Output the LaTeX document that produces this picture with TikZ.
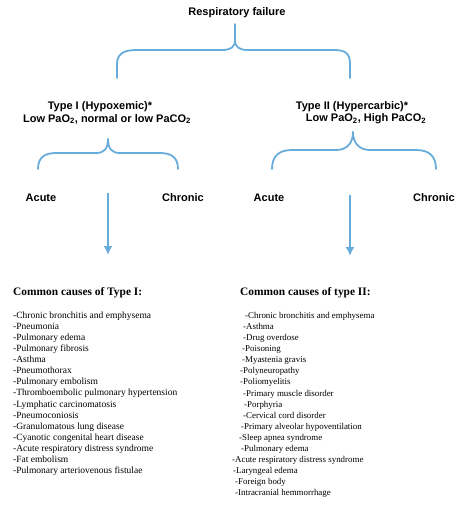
\documentclass[tikz,border=0pt]{standalone}
\usepackage{fontspec}
\setmainfont{Liberation Serif}
\setsansfont{Liberation Sans}
\usepackage{tikz}
\usetikzlibrary{arrows.meta,calc,positioning}
\definecolor{braceblue}{RGB}{104,172,220}
\tikzset{
  brace/.style={draw=braceblue,line width=1.8pt,line cap=round,line join=round},
  down/.style={draw=braceblue,line width=1.8pt,-{Latex[length=9pt,width=9pt]}},
  head/.style={font=\sffamily\bfseries\fontsize{11}{12}\selectfont,inner sep=0pt},
  causes/.style={font=\bfseries\fontsize{11.4}{13}\selectfont,inner sep=0pt,anchor=base west},
  itemI/.style={font=\fontsize{9.5}{11}\selectfont,inner sep=0pt,anchor=base west},
  itemII/.style={font=\fontsize{8.9}{11}\selectfont,inner sep=0pt,anchor=base west}
}
\begin{document}
\begin{tikzpicture}[x=1pt,y=-1pt]
\useasboundingbox (0,0) rectangle (474,505);
\node[head] (RF) at (237,13) {Respiratory failure};
\node[head] (T1) at (100,107) {Type I (Hypoxemic)*};
\node[head] (L1) at (107,119) {Low PaO\textsubscript{2}, normal or low PaCO\textsubscript{2}};
\node[head] (T2) at (352,107) {Type II (Hypercarbic)*};
\node[head] (L2) at (366,119) {Low PaO\textsubscript{2}, High PaCO\textsubscript{2}};
\node[head] (A1) at (41,198) {Acute};
\node[head] (C1) at (183,198) {Chronic};
\node[head] (A2) at (269,198) {Acute};
\node[head] (C2) at (434,198) {Chronic};
\node[causes] (CT1) at (13,295) {Common causes of Type I:};
\node[causes] (CT2) at (240,295) {Common causes of type II:};
\coordinate (S1) at (108,193);
\coordinate (E1) at (108,255);
\coordinate (S2) at (350,195);
\coordinate (E2) at (350,256);
% braces
\draw[brace] (117,78) -- (117,64) .. controls (117,54) and (124,50) .. (136,50) -- (222,50)
  .. controls (231,50) and (235,47) .. (235,40) -- (235,24);
\draw[brace] (235,40) .. controls (235,47) and (239,50) .. (248,50) -- (334,50)
  .. controls (346,50) and (350,54) .. (350,64) -- (350,78);
\draw[brace] (38,169) .. controls (38,158) and (44,153) .. (56,153) -- (96,153)
  .. controls (104,153) and (108,149) .. (108,139);
\draw[brace] (108,139) .. controls (108,149) and (112,153) .. (120,153) -- (160,153)
  .. controls (172,153) and (178,158) .. (178,169);
\draw[brace] (272,169) .. controls (272,156) and (279,150) .. (292,150) -- (336,150)
  .. controls (347,150) and (353,143) .. (353,132);
\draw[brace] (353,132) .. controls (353,143) and (359,150) .. (370,150) -- (416,150)
  .. controls (429,150) and (436,156) .. (436,169);
\draw[down] (S1) -- (E1);
\draw[down] (S2) -- (E2);
% lists
\foreach \t [count=\i] in {-Chronic bronchitis and emphysema,-Pneumonia,-Pulmonary edema,
  -Pulmonary fibrosis,-Asthma,-Pneumothorax,-Pulmonary embolism,
  -Thromboembolic pulmonary hypertension,-Lymphatic carcinomatosis,-Pneumoconiosis,
  -Granulomatous lung disease,-Cyanotic congenital heart disease,
  -Acute respiratory distress syndrome,-Fat embolism,-Pulmonary arteriovenous fistulae}
  \node[itemI] (I\i) at (13,307.4+11.07*\i) {\t};
\foreach \x/\t [count=\i] in {245/-Chronic bronchitis and emphysema,243/-Asthma,
  243/-Drug overdose,242/-Poisoning,242/-Myastenia gravis,240/-Polyneuropathy,
  240/-Poliomyelitis,243/-Primary muscle disorder,244/-Porphyria,
  243/-Cervical cord disorder,241/-Primary alveolar hypoventilation,
  239/-Sleep apnea syndrome,241/-Pulmonary edema,232/-Acute respiratory distress syndrome,
  233/-Laryngeal edema,235/-Foreign body,235/-Intracranial hemmorrhage}
  \node[itemII] (II\i) at (\x,307.4+11.08*\i) {\t};
\end{tikzpicture}
\end{document}
